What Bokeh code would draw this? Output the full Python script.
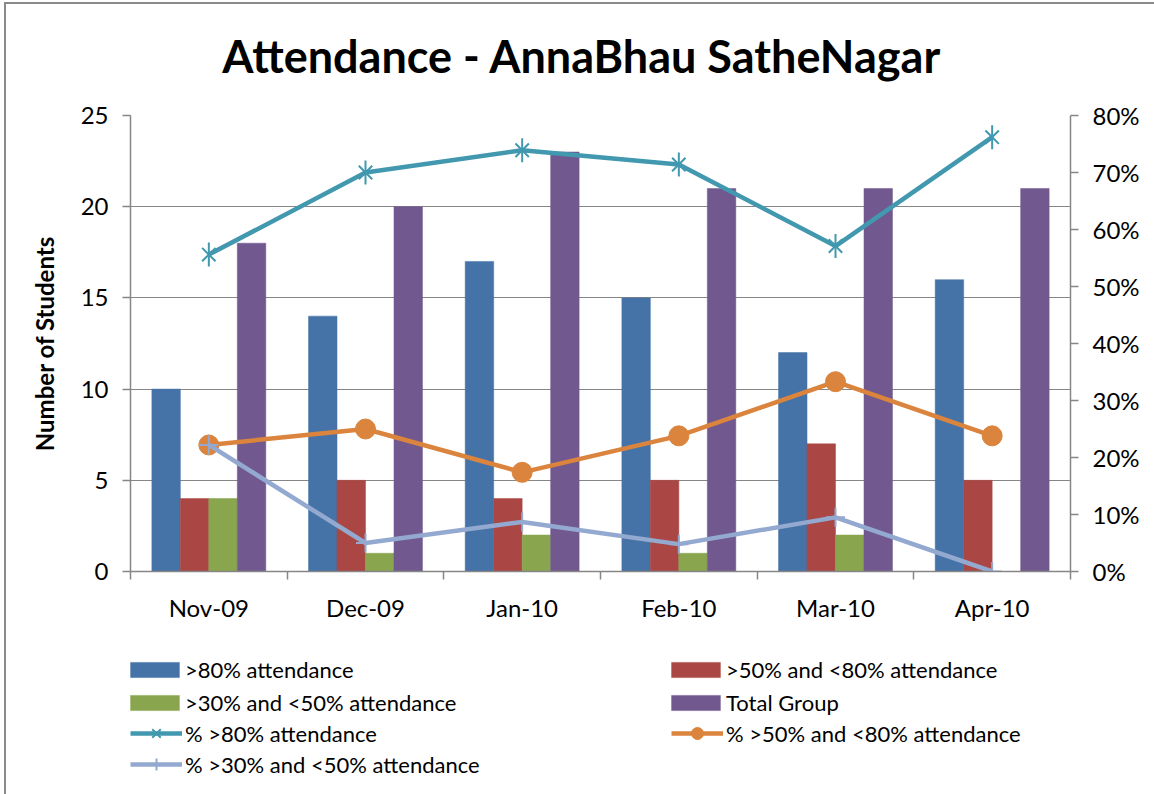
import math
from bokeh.plotting import figure
from bokeh.layouts import column
from bokeh.models import (Range1d, LinearAxis, FixedTicker, Legend, LegendItem, Label, ColumnDataSource)
from bokeh.transform import dodge
from bokeh.embed import file_html
from bokeh.resources import INLINE

# ---------------- data ----------------
months = ["Nov-09", "Dec-09", "Jan-10", "Feb-10", "Mar-10", "Apr-10"]
above80 = [10, 14, 17, 15, 12, 16]
between50_80 = [4, 5, 4, 5, 7, 5]
between30_50 = [4, 1, 2, 1, 2, 0]
total_group = [18, 20, 23, 21, 21, 21]
pct_above80 = [0.556, 0.700, 0.739, 0.714, 0.571, 0.762]
pct_50_80 = [0.222, 0.250, 0.174, 0.238, 0.333, 0.238]
pct_30_50 = [0.222, 0.050, 0.087, 0.048, 0.095, 0.000]
left_ticks = [0, 5, 10, 15, 20, 25]
right_ticks = [0.0, 0.1, 0.2, 0.3, 0.4, 0.5, 0.6, 0.7, 0.8]
right_tick_labels = ["0%", "10%", "20%", "30%", "40%", "50%", "60%", "70%", "80%"]
chart_title = "Attendance - AnnaBhau SatheNagar"

FONT = "Lato"
GRID = "#868686"
BORDER = "#8a8a8a"
C_BLUE, C_RED, C_GREEN, C_PURPLE = "#4572A7", "#AA4643", "#89A54E", "#71588F"
C_TEAL, C_ORANGE, C_LBLUE = "#4198AF", "#DB843D", "#93A9CF"

SHIFT_X, SHIFT_Y = 6, 4          # chart-area border offset
W = 1154 - SHIFT_X
TITLE_H = 95 - SHIFT_Y
LEG_H = 153

def strip(height):
    f = figure(width=W, height=height, x_range=Range1d(0, 1), y_range=Range1d(0, 1),
               x_axis_type=None, y_axis_type=None, min_border=0, title_location=None,
               output_backend="svg", toolbar_location=None,
               background_fill_color="white", border_fill_color="white")
    f.outline_line_color = None
    f.grid.visible = False
    return f

# ---------------- title strip ----------------
t = strip(TITLE_H)
t.add_layout(Label(x=451.5, y=44 - SHIFT_Y, x_units="screen", y_units="screen", text=chart_title,
                   text_align="center", text_baseline="alphabetic", text_font=FONT,
                   text_font_style="bold", text_font_size="45px", text_color="black"))

# ---------------- main plot ----------------
pos = [i + 0.5 for i in range(len(months))]
src = ColumnDataSource(dict(x=pos, a=above80, b=between50_80, c=between30_50, t=total_group,
                            pa=pct_above80, pb=pct_50_80, pc=pct_30_50))

p = figure(frame_width=940, frame_height=456, title_location=None,
           min_border_left=130 - SHIFT_X, min_border_right=84, min_border_top=20, min_border_bottom=70,
           x_range=Range1d(0, len(months)), y_range=Range1d(0, 25),
           output_backend="svg", toolbar_location=None, background_fill_color="white",
           border_fill_color="white")
p.extra_y_ranges = {"pct": Range1d(0, 0.8)}
p.outline_line_color = None

bw = 1 / 5.5
bar_specs = [("a", -1.5, C_BLUE), ("b", -0.5, C_RED), ("c", 0.5, C_GREEN), ("t", 1.5, C_PURPLE)]
for col, off, colr in bar_specs:
    p.vbar(x=dodge("x", off * bw, range=p.x_range), top=col, width=bw, source=src,
           fill_color=colr, line_color=colr, line_width=0.5)

p.line("x", "pa", source=src, y_range_name="pct", line_color=C_TEAL, line_width=4.5)
p.scatter("x", "pa", source=src, y_range_name="pct", marker="x", size=19, line_color=C_TEAL, line_width=2)
p.scatter("x", "pa", source=src, y_range_name="pct", marker="dash", size=24, angle=math.pi / 2,
          line_color=C_TEAL, line_width=2)
p.line("x", "pb", source=src, y_range_name="pct", line_color=C_ORANGE, line_width=4.5)
p.scatter("x", "pb", source=src, y_range_name="pct", marker="circle", size=20,
          fill_color=C_ORANGE, line_color=C_ORANGE)
p.line("x", "pc", source=src, y_range_name="pct", line_color=C_LBLUE, line_width=4.5)
p.scatter("x", "pc", source=src, y_range_name="pct", marker="cross", size=19, line_color=C_LBLUE, line_width=2)

p.xgrid.visible = False
p.ygrid.grid_line_color = GRID
p.ygrid.grid_line_width = 1.2
p.ygrid.ticker = FixedTicker(ticks=left_ticks)

xa = p.xaxis[0]
xa.ticker = FixedTicker(ticks=pos, minor_ticks=list(range(len(months) + 1)))
xa.major_label_overrides = {pos[i]: months[i] for i in range(len(months))}
xa.major_tick_line_color = None
xa.major_tick_in = 0
xa.major_tick_out = 8
xa.minor_tick_in = 0
xa.minor_tick_out = 8
xa.minor_tick_line_color = GRID
xa.minor_tick_line_width = 1.5
xa.axis_line_color = GRID
xa.axis_line_width = 1.5
xa.major_label_standoff = 13
xa.major_label_text_font = FONT
xa.major_label_text_font_size = "24px"
xa.major_label_text_color = "black"

ya = p.yaxis[0]
ya.ticker = FixedTicker(ticks=left_ticks)
ya.axis_line_color = GRID
ya.axis_line_width = 1.5
ya.major_tick_line_color = GRID
ya.major_tick_line_width = 1.5
ya.major_tick_in = 0
ya.major_tick_out = 8
ya.minor_tick_line_color = None
ya.major_label_standoff = 14
ya.major_label_text_font = FONT
ya.major_label_text_font_size = "24px"
ya.major_label_text_color = "black"
ya.axis_label = "Number of Students"
ya.axis_label_text_font = FONT
ya.axis_label_text_font_style = "bold"
ya.axis_label_text_font_size = "24px"
ya.axis_label_standoff = 19
ya.axis_label_text_color = "black"

ra = LinearAxis(y_range_name="pct", ticker=FixedTicker(ticks=right_ticks))
ra.major_label_overrides = {right_ticks[i]: right_tick_labels[i] for i in range(len(right_ticks))}
ra.axis_line_color = GRID
ra.axis_line_width = 1.5
ra.major_tick_line_color = GRID
ra.major_tick_line_width = 1.5
ra.major_tick_in = 0
ra.major_tick_out = 8
ra.minor_tick_line_color = None
ra.major_label_standoff = 14
ra.major_label_text_font = FONT
ra.major_label_text_font_size = "24px"
ra.major_label_text_color = "black"
p.add_layout(ra, "right")

# ---------------- legend strip ----------------
q = strip(LEG_H)
nan = [float("nan")]
g_bars = [q.vbar(x=nan, top=nan, width=0.1, fill_color=c, line_color=c, line_width=0.5)
          for _, _, c in bar_specs]
g_a = [q.line(nan, nan, line_color=C_TEAL, line_width=4.5),
       q.scatter(nan, nan, marker="x", line_color=C_TEAL, line_width=2),
       q.scatter(nan, nan, marker="dash", angle=math.pi / 2, line_color=C_TEAL, line_width=2)]
g_b = [q.line(nan, nan, line_color=C_ORANGE, line_width=4.5),
       q.scatter(nan, nan, marker="circle", fill_color=C_ORANGE, line_color=C_ORANGE)]
g_c = [q.line(nan, nan, line_color=C_LBLUE, line_width=4.5),
       q.scatter(nan, nan, marker="cross", line_color=C_LBLUE, line_width=2)]

COLW = 541
leg_style = dict(orientation="horizontal", ncols=2, padding=0, margin=0, label_height=25,
                 border_line_color=None, background_fill_alpha=0,
                 label_text_font=FONT, label_text_font_size="22px", label_text_color="black")
leg_bars = Legend(
    items=[LegendItem(label=">80% attendance", renderers=[g_bars[0]]),
           LegendItem(label=">50% and <80% attendance", renderers=[g_bars[1]]),
           LegendItem(label=">30% and <50% attendance", renderers=[g_bars[2]]),
           LegendItem(label="Total Group", renderers=[g_bars[3]])],
    glyph_width=61, glyph_height=19, label_standoff=0, spacing=6,
    label_width=COLW - 61 - 0 - 6, location=(-6, 78), **leg_style)
leg_lines = Legend(
    items=[LegendItem(label="% >80% attendance", renderers=g_a),
           LegendItem(label="% >50% and <80% attendance", renderers=g_b),
           LegendItem(label="% >30% and <50% attendance", renderers=g_c)],
    glyph_width=52, glyph_height=30, label_standoff=3, spacing=1,
    label_width=COLW - 52 - 3 - 1, location=(0, 15), **leg_style)
q.add_layout(leg_bars, "center")
q.add_layout(leg_lines, "center")

layout = column(t, p, q, spacing=0,
                styles={"border-left": f"2px solid {BORDER}", "border-top": f"2px solid {BORDER}",
                        "margin-left": f"{SHIFT_X - 2}px", "margin-top": f"{SHIFT_Y - 2}px"})
open("out.html", "w").write(file_html(layout, INLINE))
